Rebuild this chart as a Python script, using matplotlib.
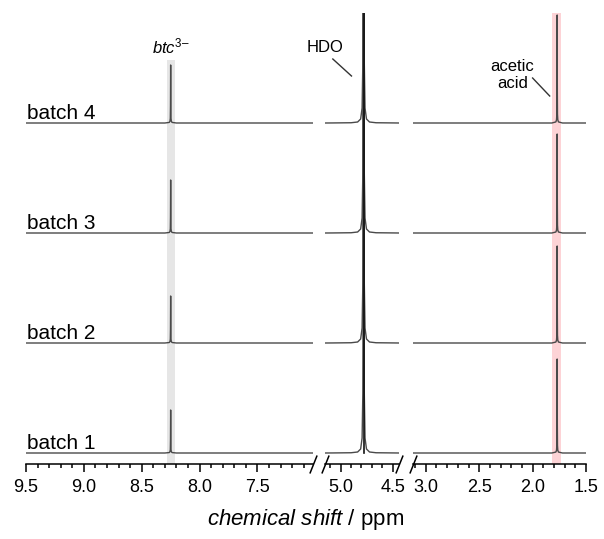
import numpy as np
import matplotlib
matplotlib.use("Agg")
import matplotlib.pyplot as plt

plt.rcParams['font.family'] = ['Liberation Sans', 'DejaVu Sans']
plt.rcParams['mathtext.fontset'] = 'custom'
plt.rcParams['mathtext.rm'] = 'Liberation Sans'
plt.rcParams['mathtext.it'] = 'Liberation Sans:italic'

# ── Data ──
batches = ['batch 1', 'batch 2', 'batch 3', 'batch 4']

btc_ppm = 8.25
hdo_ppm = 4.78
acetic_ppm = 1.77

btc_heights = [43, 47, 53, 58]        # peak heights (px-like intensity units)
acetic_heights = [94, 97, 99, 108]

# narrow singlet shape: offset from centre (ppm) and relative intensity
narrow_offsets = [-0.05, -0.012, -0.006, -0.003, -0.0015, 0.0,
                  0.0015, 0.003, 0.006, 0.012, 0.05]
narrow_profile = [0.0, 0.01, 0.03, 0.08, 0.3, 1.0,
                  0.3, 0.08, 0.03, 0.01, 0.0]

# HDO peak (off scale) : offset from centre (ppm) and intensity
hdo_offsets = [-0.3, -0.12, -0.057, -0.028, -0.014, -0.007, -0.0035, 0.0,
               0.0035, 0.007, 0.014, 0.028, 0.057, 0.12, 0.3]
hdo_profile = [0.05, 0.25, 1, 4, 15, 60, 200, 450,
               200, 60, 15, 4, 1, 0.25, 0.05]

# axis segments (ppm, left -> right) and major tick labels
seg_limits = [(9.5, 7.02), (5.15, 4.44), (3.12, 1.5)]
seg_major = [[9.5, 9.0, 8.5, 8.0, 7.5], [5.0, 4.5], [3.0, 2.5, 2.0, 1.5]]
seg_minor = [np.arange(7.1, 9.55, 0.1), np.arange(4.5, 5.15, 0.1),
             np.arange(1.5, 3.15, 0.1)]

# ── Layout (pixels of a 604 x 539 figure) ──
W, H = 604, 539
fig = plt.figure(figsize=(W / 100, H / 100), dpi=100)
y_bot, y_top = 464, 13
seg_px = [(26, 313), (325, 399), (413, 586)]
spacing = 110
ylim = (-11, 440)

axes = []
for (x0, x1) in seg_px:
    ax = fig.add_axes([x0 / W, (H - y_bot) / H, (x1 - x0) / W, (y_bot - y_top) / H])
    axes.append(ax)

line_kw = dict(color='#4a4a4a', lw=1.0)


def trace(lo, hi, center, offs, vals):
    x = np.array([lo] + [center + o for o in offs] + [hi])
    y = np.array([0] + list(vals) + [0])
    order = np.argsort(x)
    return x[order], y[order]


for k, ax in enumerate(axes):
    lo, hi = seg_limits[k]
    for i in range(len(batches)):
        off = i * spacing
        if k == 0:
            x, y = trace(lo, hi, btc_ppm, narrow_offsets,
                         [btc_heights[i] * p for p in narrow_profile])
        elif k == 1:
            x, y = trace(lo, hi, hdo_ppm, hdo_offsets, hdo_profile)
        else:
            x, y = trace(lo, hi, acetic_ppm, narrow_offsets,
                         [acetic_heights[i] * p for p in narrow_profile])
        ax.plot(x, y + off, zorder=3, **line_kw)

    ax.set_xlim(lo, hi)
    ax.set_ylim(*ylim)
    ax.set_xticks(seg_major[k])
    ax.set_xticklabels([f'{v:.1f}' for v in seg_major[k]])
    ax.set_xticks(seg_minor[k], minor=True)
    ax.tick_params(axis='x', which='major', direction='out', length=6,
                   width=1.1, labelsize=13, pad=5)
    ax.tick_params(axis='x', which='minor', direction='out', length=3,
                   width=1.1)
    ax.set_yticks([])
    for s in ['top', 'left', 'right']:
        ax.spines[s].set_visible(False)
    ax.spines['bottom'].set_linewidth(1.1)
    ax.patch.set_alpha(0)

# HDO line overlaps itself and looks black in the original (from batch 1 baseline up)
axes[1].axvline(hdo_ppm, ymin=(0 - ylim[0]) / (ylim[1] - ylim[0]),
                color='#111111', lw=1.2, zorder=4)

# ── Highlight bands ──
axes[0].axvspan(8.21, 8.285, ymin=0, ymax=(393 - ylim[0]) / (ylim[1] - ylim[0]),
                color='#e6e6e6', lw=0, zorder=1)
axes[2].axvspan(1.735, 1.815, color='#fdd3d6', lw=0, zorder=1)

# ── Break marks ──
brk = dict(marker=[(-1, -2.5), (1, 2.5)], markersize=13, linestyle='none',
           color='k', mec='k', mew=1.1, clip_on=False, zorder=5)
for k, ax in enumerate(axes):
    if k < 2:
        ax.plot([1], [0], transform=ax.transAxes, **brk)
    if k > 0:
        ax.plot([0], [0], transform=ax.transAxes, **brk)

# ── Labels ──
for i, name in enumerate(batches):
    axes[0].text(9.49, i * spacing + 4, name, fontsize=15, ha='left',
                 va='baseline')

axes[0].text(8.245, 407, '$\\mathit{btc}^{\\mathrm{3\u2013}}$', fontsize=12,
             ha='center', va='center')
axes[1].text(5.15, 405, 'HDO', fontsize=12, ha='center', va='center')
axes[1].plot([5.075, 4.896], [394, 377], color='#333333', lw=1)
axes[2].text(2.19, 378, 'acetic\nacid', fontsize=12, ha='center',
             va='center', linespacing=1.2)
axes[2].plot([2.0, 1.84], [375, 357], color='#333333', lw=1)

fig.text(306 / W, (H - 520) / H, r'$\mathit{chemical\ shift}$ / ppm',
         fontsize=16, ha='center', va='center')

plt.savefig('out.png', dpi=100)
